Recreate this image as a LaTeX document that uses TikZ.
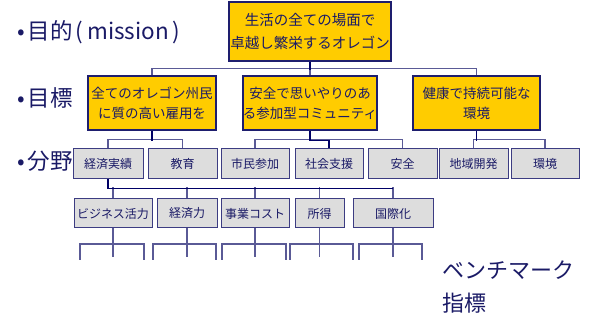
\documentclass[tikz,border=0pt]{standalone}
\usepackage{fontspec}
\setmainfont{Noto Sans CJK JP}
\definecolor{txt}{RGB}{26,26,102}
\definecolor{ylw}{RGB}{255,204,0}
\definecolor{gry}{RGB}{221,221,221}
\definecolor{boxline}{RGB}{30,30,110}
\definecolor{gline}{RGB}{60,60,130}
\definecolor{dline}{RGB}{0,0,102}
\definecolor{lline}{RGB}{90,90,150}
\begin{document}
\begin{tikzpicture}[x=1pt,y=-1pt,
  ybox/.style={draw=boxline, fill=ylw, line width=1.2pt, inner sep=0pt, align=center, text=txt},
  gbox/.style={draw=gline, fill=gry, line width=1pt, inner sep=0pt, minimum height=30pt, font=\fontsize{12}{14}\selectfont, text=txt},
  dk/.style={draw=dline, line width=1.8pt},
  lt/.style={draw=lline, line width=1.2pt},
  lbl/.style={anchor=west, inner sep=0pt, text=txt, font=\fontsize{22.5}{26}\selectfont}]
\useasboundingbox (0,0) rectangle (590,320);

% labels
\node[lbl] (l1) at (17,32) {•\hspace{3pt}目的\hspace{3pt}(\,mission\,)};
\node[lbl] (l2) at (17,98) {•\hspace{3pt}目標};
\node[lbl] (l3) at (17,161) {•\hspace{3pt}分野};
\node[lbl, font=\fontsize{22}{26}\selectfont] (l4) at (442,270) {ベンチマーク};
\node[lbl, font=\fontsize{22}{26}\selectfont] (l5) at (442,303) {指標};

% top
\node[ybox, minimum width=162pt, minimum height=59pt, font=\fontsize{14.5}{23}\selectfont] (top) at (310,31.5) {生活の全ての場面で\\卓越し繁栄するオレゴン};

% level 2
\node[ybox, minimum width=128pt, minimum height=54pt, font=\fontsize{13.5}{20}\selectfont] (b1) at (152,103) {全てのオレゴン州民\\に質の高い雇用を};
\node[ybox, minimum width=127pt, minimum height=54pt, font=\fontsize{13.5}{20}\selectfont] (b2) at (310,103) {安全で思いやりのあ\\る参加型コミュニティ};
\node[ybox, minimum width=127pt, minimum height=54pt, font=\fontsize{13.5}{20}\selectfont] (b3) at (476.5,103) {健康で持続可能な\\環境};

% level 3
\node[gbox, minimum width=70pt] (c1) at (108,164) {経済実績};
\node[gbox, minimum width=69pt] (c2) at (182.5,164) {教育};
\node[gbox, minimum width=68pt] (c3) at (255,164) {市民参加};
\node[gbox, minimum width=68pt] (c4) at (329,164) {社会支援};
\node[gbox, minimum width=69pt] (c5) at (402.5,164) {安全};
\node[gbox, minimum width=69pt] (c6) at (473.5,164) {地域開発};
\node[gbox, minimum width=68pt] (c7) at (545,164) {環境};

% level 4
\node[gbox, minimum width=78pt, minimum height=29pt] (d1) at (113,213.5) {ビジネス活力};
\node[gbox, minimum width=60pt, minimum height=29pt] (d2) at (187,213.5) {経済力};
\node[gbox, minimum width=68pt, minimum height=29pt] (d3) at (255,213.5) {事業コスト};
\node[gbox, minimum width=49pt, minimum height=29pt] (d4) at (319.5,213.5) {所得};
\node[gbox, minimum width=80pt, minimum height=29pt] (d5) at (393,213.5) {国際化};

% connectors top -> level 2
\draw[lt] (b1.north) -- ++(0,-7) -| (b3.north);
\draw[lt] (top.south) -- (b2.north);
\draw[dk] (top.south) -- ++(0,8);

% level 2 -> level 3
\draw[lt] (c1.north) -- ++(0,-9) -| (c2.north);
\draw[dk] (b1.south) -- ++(0,10);
\draw[lt] (c3.north) -- ++(0,-9) -| (c5.north);
\draw[dk] (b2.south) -- ++(0,10) -| (c4.north);
\draw[lt] (c6.north) -- ++(0,-9) -| (c7.north);
\draw[dk] (b3.south) -- ++(0,10);

% level 3 -> level 4
\foreach \n in {d1,d2,d3,d4,d5}{\draw[lt] (\n.north) -- ++(0,-11);}
\draw[dk] (c1.south) -- ++(0,9) coordinate (k) -- (k -| d5.north);

% benchmark brackets
\foreach \n/\l/\r in {d1/80/144, d2/153/216, d3/222/286, d4/290/353, d5/359/422}{
  \coordinate (\n L) at (\l,260);
  \coordinate (\n R) at (\r,260);
  \draw[lt] (\n.south) -- ++(0,29);
  \draw[lt] (\n L) -- ++(0,-16) -| (\n R);
}
\end{tikzpicture}
\end{document}
